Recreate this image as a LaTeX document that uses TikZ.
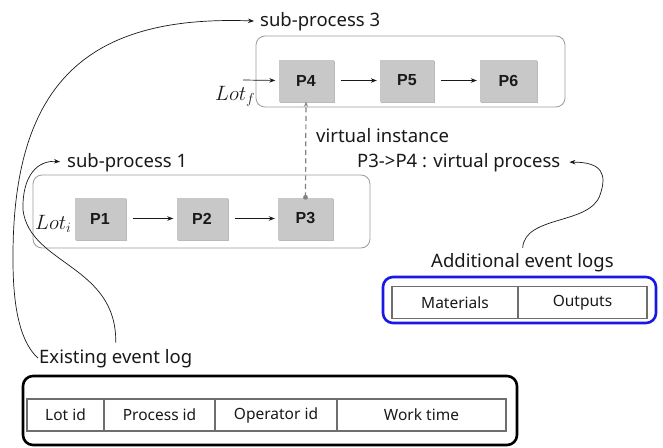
\documentclass[tikz,border=0pt]{standalone}
\usepackage{fontspec}
\setmainfont{Noto Sans}
\newfontfamily\stepfont{Liberation Sans}
\usetikzlibrary{arrows.meta,shadows}

\definecolor{boxgray}{RGB}{200,200,200}
\definecolor{framegray}{RGB}{155,155,155}
\definecolor{dashgray}{RGB}{130,130,130}
\definecolor{cellgray}{RGB}{110,110,110}
\definecolor{logblue}{RGB}{25,25,230}
\definecolor{ink}{RGB}{25,25,25}

\begin{document}
\begin{tikzpicture}[x=1pt,y=-1pt,
  lbl/.style={font=\fontsize{18.5}{22}\selectfont, inner sep=1pt, text=ink},
  procbox/.style={fill=boxgray, minimum height=42pt, inner sep=0pt,
    font=\stepfont\bfseries\fontsize{16}{18}\selectfont, text=ink,
    drop shadow={shadow xshift=1.3pt, shadow yshift=-1.3pt, fill=black!45, opacity=0.6}},
  subbox/.style={draw=framegray, line width=0.8pt, rounded corners=9pt, inner sep=0pt},
  flow/.style={-{Stealth[length=6pt,width=4.5pt]}, line width=0.7pt, draw=ink},
  cell/.style={draw=cellgray, line width=1.1pt, minimum height=32pt, inner sep=0pt,
    outer sep=0pt, font=\fontsize{15.5}{18}\selectfont, text=ink},
  curve/.style={line width=0.8pt, draw=ink},
  lot/.style={font=\fontsize{19.5}{22}\selectfont, inner sep=0pt, text=ink},
  logframe/.style={line width=2.6pt, rounded corners=10pt, inner sep=0pt}]

\useasboundingbox (0,0) rectangle (663,447);

% sub-process frames
\node[subbox, minimum width=309pt, minimum height=71pt] (sp3) at (410.5,71.5) {};
\node[subbox, minimum width=337pt, minimum height=73pt] (sp1) at (201.5,211.5) {};

% process steps
\node[procbox, minimum width=55pt] (P4) at (306,80.5) {P4};
\node[procbox, minimum width=54pt] (P5) at (407,80.5) {P5};
\node[procbox, minimum width=57pt] (P6) at (508.5,80.5) {P6};
\node[procbox, minimum width=51pt] (P1) at (100,218.5) {P1};
\node[procbox, minimum width=51pt] (P2) at (202,218.5) {P2};
\node[procbox, minimum width=55pt] (P3) at (305.5,218.5) {P3};

\draw[flow, shorten <=7pt, shorten >=3pt] (P1) -- (P2);
\draw[flow, shorten <=7pt, shorten >=3pt] (P2) -- (P3);
\draw[flow, shorten <=7pt, shorten >=3pt] (P4) -- (P5);
\draw[flow, shorten <=7pt, shorten >=3pt] (P5) -- (P6);

% lots entering the sub-processes
\node[lot, anchor=base west] (lotf) at (215,100) {$Lot_f$};
\node[lot, anchor=base west] (loti) at (35,229) {$Lot_i$};
\coordinate (lotfin) at (243,80);
\draw[flow, shorten >=3pt] (lotfin) -- (P4.west);

% virtual instance link P3 -> P4
\draw[dashgray, line width=1.2pt, dash pattern=on 5pt off 3.5pt,
  -{Stealth[length=5pt,width=4pt]}] (P3.north) -- (P4.south);
\fill[dashgray] (P3.north) circle (2.4pt);

% labels
\node[lbl, anchor=base west] (sp3lab) at (259,26) {sub-process 3};
\node[lbl, anchor=base west] (sp1lab) at (66,167) {sub-process 1};
\node[lbl, anchor=base west] (vi) at (315,142) {virtual instance};
\node[lbl, anchor=base west] (vp) at (356,167) {P3->P4 : virtual process};
\node[lbl, anchor=base west] (ael) at (430,267) {Additional event logs};
\node[lbl, anchor=base west] (eel) at (38,363) {Existing event log};

% additional event logs
\node[draw=logblue, logframe, minimum width=273pt, minimum height=46pt] (aelbox) at (519.5,300) {};
\node[cell, minimum width=126pt] (cmat) at (455,302.5) {Materials};
\node[cell, minimum width=129pt] (cout) at (582.5,302.5) {Outputs};

% existing event log
\node[draw=black, logframe, minimum width=494pt, minimum height=69pt] (eelbox) at (270,410.5) {};
\node[cell, minimum width=77pt] (clot) at (65.5,415) {Lot id};
\node[cell, minimum width=111pt] (cproc) at (159.5,415) {Process id};
\node[cell, minimum width=122pt] (coper) at (276,415) {Operator id};
\node[cell, minimum width=169pt] (cwork) at (421.5,415) {Work time};

% curved pointers
\draw[curve, flow, shorten >=5pt] (eel.west) .. controls (18,340) and (13,300) .. (13,260)
  .. controls (12,80) and (90,15) .. (sp3lab.west);
\draw[curve, flow, shorten <=5pt, shorten >=6pt] (eel.north) .. controls (117,265) and (30,265) .. (23,210)
  .. controls (22,175) and (38,160) .. (sp1lab.west);
\draw[curve, flow, shorten <=4pt, shorten >=8pt] (ael.north) .. controls (525,215) and (590,225) .. (600,195)
  .. controls (607,175) and (603,162) .. (vp.east);
\end{tikzpicture}
\end{document}
